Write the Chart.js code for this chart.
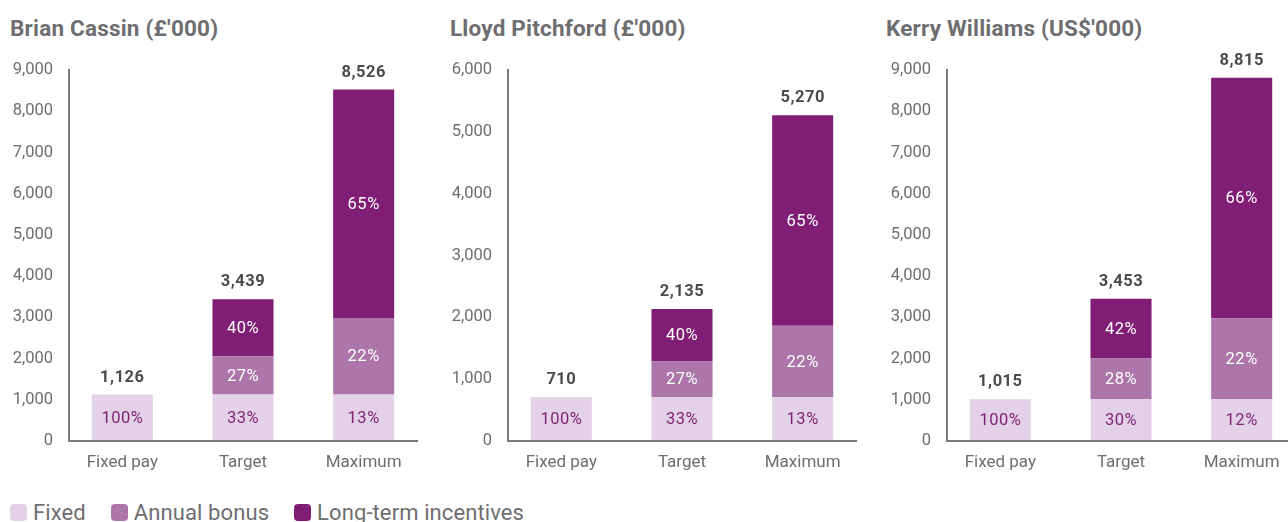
<!DOCTYPE html>
<html>
<head>
<meta charset="utf-8">
<script src="https://cdn.jsdelivr.net/npm/chart.js@4.4.1/dist/chart.umd.min.js"></script>
<style>
  html, body { margin: 0; padding: 0; background: #fff; overflow: hidden; width: 1288px; height: 522px; }
  body { position: relative; font-family: Roboto, "Open Sans", sans-serif; }
  .panel { position: absolute; top: 0; width: 440px; height: 480px; }
  .panel canvas { display: block; }
  .title { position: absolute; top: 15px; font-size: 22.5px; font-weight: 700; color: #6e6e70; white-space: nowrap; letter-spacing: 0.2px; }
  .legend { position: absolute; left: 10px; top: 500px; display: flex; align-items: center; font-size: 22px; color: #6e6e70; white-space: nowrap; letter-spacing: 0.1px; }
  .legend span.sw { display: inline-block; width: 17px; height: 17px; border-radius: 4px; margin-right: 6px; }
  .legend span.item { display: inline-flex; align-items: center; margin-right: 25px; }
</style>
</head>
<body>

<div class="title" style="left:10px">Brian Cassin (£'000)</div>
<div class="title" style="left:450px">Lloyd Pitchford (£'000)</div>
<div class="title" style="left:886px">Kerry Williams (US$'000)</div>

<div class="panel" style="left:0px"><canvas id="c1" width="440" height="480"></canvas></div>
<div class="panel" style="left:439px"><canvas id="c2" width="440" height="480"></canvas></div>
<div class="panel" style="left:878px"><canvas id="c3" width="440" height="480"></canvas></div>

<div class="legend">
  <span class="item"><span class="sw" style="background:#e2d1e7"></span>Fixed</span>
  <span class="item"><span class="sw" style="background:#ac76aa"></span>Annual bonus</span>
  <span class="item"><span class="sw" style="background:#801d75"></span>Long-term incentives</span>
</div>

<script>
// Pay scenarios shown for each executive
const scenarios = ['Fixed pay', 'Target', 'Maximum'];
const seriesNames = ['Fixed', 'Annual bonus', 'Long-term incentives'];

// Brian Cassin (£'000)
const cassinFixed = [1126, 1126, 1126];
const cassinBonus = [0, 929, 1858];
const cassinLti   = [0, 1384, 5542];
const cassinPct   = [['100%', '33%', '13%'], ['', '27%', '22%'], ['', '40%', '65%']];
const cassinTicks = [0, 1000, 2000, 3000, 4000, 5000, 6000, 7000, 8000, 9000];

// Lloyd Pitchford (£'000)
const pitchfordFixed = [710, 710, 710];
const pitchfordBonus = [0, 576, 1152];
const pitchfordLti   = [0, 849, 3408];
const pitchfordPct   = [['100%', '33%', '13%'], ['', '27%', '22%'], ['', '40%', '65%']];
const pitchfordTicks = [0, 1000, 2000, 3000, 4000, 5000, 6000];

// Kerry Williams (US$'000)
const williamsFixed = [1015, 1015, 1015];
const williamsBonus = [0, 985, 1960];
const williamsLti   = [0, 1453, 5840];
const williamsPct   = [['100%', '30%', '12%'], ['', '28%', '22%'], ['', '42%', '66%']];
const williamsTicks = [0, 1000, 2000, 3000, 4000, 5000, 6000, 7000, 8000, 9000];

const segmentColors = ['#e2d1e7', '#ac76aa', '#801d75'];
const pctColors = ['#7f1f74', '#ffffff', '#ffffff'];
const FONT = 'Roboto, "Open Sans", sans-serif';
const fmt = v => v.toLocaleString('en-GB');

// Axis lines sit slightly inside the plot area, as in the printed layout
const axisLines = {
  id: 'axisLines',
  afterDatasetsDraw(chart) {
    const { ctx, chartArea: a } = chart;
    ctx.save();
    ctx.strokeStyle = '#7a7a7d';
    ctx.lineWidth = 2;
    ctx.beginPath();
    ctx.moveTo(a.left + 7, a.top - 1);
    ctx.lineTo(a.left + 7, a.bottom);
    ctx.lineTo(a.right - 6, a.bottom);
    ctx.stroke();
    ctx.restore();
  }
};

// Percentage shares inside each segment and totals above each bar
const barLabels = {
  id: 'barLabels',
  afterDatasetsDraw(chart, args, opts) {
    const { ctx } = chart;
    const pct = opts.pct;
    ctx.save();
    ctx.textAlign = 'center';
    ctx.textBaseline = 'middle';
    if ('letterSpacing' in ctx) ctx.letterSpacing = '0.5px';
    chart.data.datasets.forEach((ds, di) => {
      const meta = chart.getDatasetMeta(di);
      meta.data.forEach((bar, i) => {
        const txt = pct[di][i];
        if (!txt || !ds.data[i]) return;
        ctx.font = '400 16.5px ' + FONT;
        ctx.fillStyle = pctColors[di];
        ctx.fillText(txt, bar.x, (bar.y + bar.base) / 2 + 1);
      });
    });
    const last = chart.getDatasetMeta(chart.data.datasets.length - 1);
    const yScale = chart.scales.y;
    chart.data.labels.forEach((_, i) => {
      const total = chart.data.datasets.reduce((s, ds) => s + ds.data[i], 0);
      const x = last.data[i].x;
      const y = yScale.getPixelForValue(total);
      ctx.font = '700 16.5px ' + FONT;
      ctx.fillStyle = '#4b4b4d';
      ctx.fillText(fmt(total), x, y - 17);
    });
    ctx.restore();
  }
};

function makeChart(id, fixed, bonus, lti, pct, ticks) {
  const values = [fixed, bonus, lti];
  const tickMax = ticks[ticks.length - 1];
  return new Chart(document.getElementById(id), {
    type: 'bar',
    data: {
      labels: scenarios,
      datasets: values.map((v, k) => ({
        label: seriesNames[k],
        data: v,
        backgroundColor: segmentColors[k],
        borderWidth: 0,
        barPercentage: 0.506,
        categoryPercentage: 1
      }))
    },
    options: {
      responsive: false,
      animation: false,
      devicePixelRatio: 1,
      layout: { padding: { left: 7, right: 16, top: 70, bottom: 0 } },
      plugins: {
        legend: { display: false },
        tooltip: { enabled: false },
        barLabels: { pct }
      },
      scales: {
        x: {
          stacked: true,
          grid: { display: false, drawTicks: false },
          border: { display: false },
          ticks: { color: '#6e6e70', font: { family: FONT, size: 17 }, padding: 12 },
          afterFit(s) { s.height = 39; }
        },
        y: {
          stacked: true,
          min: 0,
          max: tickMax,
          grid: { display: false, drawTicks: false },
          border: { display: false },
          afterFit(s) { s.width = 55; },
          afterBuildTicks(s) { s.ticks = ticks.map(v => ({ value: v })); },
          ticks: {
            color: '#6e6e70',
            font: { family: FONT, size: 16.5 },
            padding: 9,
            callback: v => fmt(v)
          }
        }
      }
    },
    plugins: [axisLines, barLabels]
  });
}

makeChart('c1', cassinFixed, cassinBonus, cassinLti, cassinPct, cassinTicks);
makeChart('c2', pitchfordFixed, pitchfordBonus, pitchfordLti, pitchfordPct, pitchfordTicks);
makeChart('c3', williamsFixed, williamsBonus, williamsLti, williamsPct, williamsTicks);
</script>
</body>
</html>
